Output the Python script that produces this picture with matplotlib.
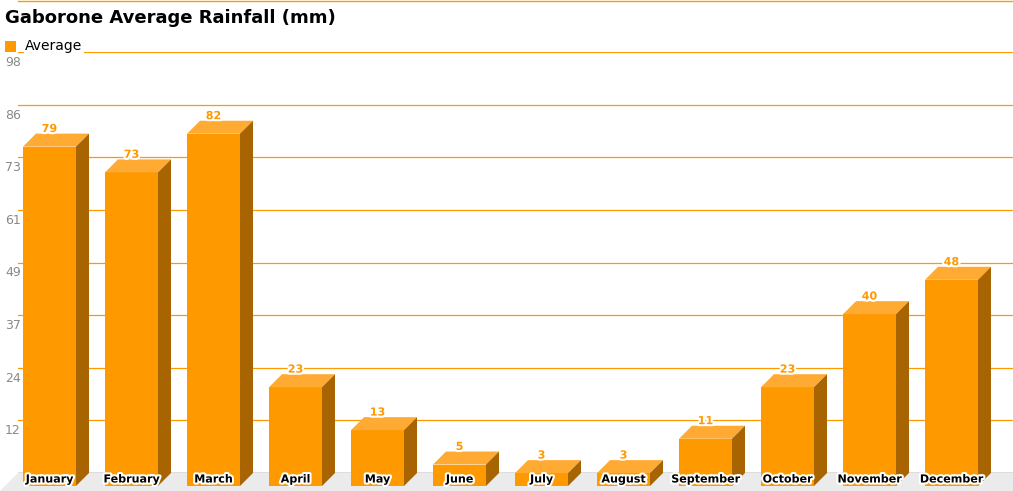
import matplotlib.pyplot as plt
import matplotlib.patheffects as pe
from matplotlib.patches import Polygon

months = ["January", "February", "March", "April", "May", "June",
          "July", "August", "September", "October", "November", "December"]
rainfall = [79, 73, 82, 23, 13, 5, 3, 3, 11, 23, 40, 48]
tick_values = [12.25, 24.5, 36.75, 49, 61.25, 73.5, 85.75, 98]
tick_labels = ["12", "24", "37", "49", "61", "73", "86", "98"]

W, H = 1013, 491
FRONT = "#ff9900"
TOP = "#ffaa33"
SIDE = "#a86400"
GRID = "#ff9900"

fig = plt.figure(figsize=(W / 100, H / 100), dpi=100)
# axes spans from pixel x=18 to the right edge, value 0 at y=473, 98 at y=52
ax = fig.add_axes([18 / W, (H - 473) / H, (W - 18) / W, 421 / H])
ax.set_xlim((18 - 62.5) / 82, (W - 62.5) / 82)
ax.set_ylim(0, 98)
ax.axis("off")

px_x = 1 / 82          # data units per pixel, x
px_y = 98 / 421        # data units per pixel, y
dx = 13 * px_x
dy = 13 * px_y
bw = 53 * px_x

# floor
x0, x1 = ax.get_xlim()
floor = Polygon([(x0, 0), (x1, 0), (x1, -18 * px_y), (x0 - 18 * px_x, -18 * px_y)],
                closed=True, facecolor="#ebebeb", edgecolor="none", clip_on=False, zorder=0)
ax.add_patch(floor)

# grid lines + tick labels (drawn just under each line)
for t, lab in zip(tick_values, tick_labels):
    ax.axhline(t, color=GRID, linewidth=0.9, zorder=1)
    ax.text(x0 - 13 * px_x, t - 4 * px_y, lab,
            ha="left", va="top", fontsize=9, color="#888888", clip_on=False)
ax.axhline(0, color="#555555", linewidth=1, zorder=1)

outline = [pe.withStroke(linewidth=3, foreground="white")]
for i, v in enumerate(rainfall):
    l, r = i - bw / 2, i + bw / 2
    front = Polygon([(l - dx, -dy), (r - dx, -dy), (r - dx, v - dy), (l - dx, v - dy)],
                    facecolor=FRONT, edgecolor="none", clip_on=False, zorder=3)
    top = Polygon([(l - dx, v - dy), (r - dx, v - dy), (r, v), (l, v)],
                  facecolor=TOP, edgecolor="none", clip_on=False, zorder=3)
    side = Polygon([(r - dx, -dy), (r, 0), (r, v), (r - dx, v - dy)],
                   facecolor=SIDE, edgecolor="none", clip_on=False, zorder=3)
    for p in (front, top, side):
        ax.add_patch(p)
    ax.text(i - dx, v + 4.6 * px_y, str(v), ha="center", va="center",
            fontsize=8, fontweight="bold", color=FRONT, zorder=5, path_effects=outline)
    ax.text(i - dx, -6.5 * px_y, months[i], ha="center", va="center",
            fontsize=8, fontweight="bold", color="black", zorder=5, clip_on=False,
            path_effects=outline)

# top border line
fig.add_artist(plt.Line2D([18 / W, 1], [1 - 0.5 / H, 1 - 0.5 / H], color=GRID, linewidth=1))

fig.text(5 / W, 1 - 18 / H, "Gaborone Average Rainfall (mm)", ha="left", va="center",
         fontsize=13, fontweight="bold", color="black")
fig.patches.append(plt.Rectangle((5 / W, 1 - 52 / H), 11 / W, 11 / H, transform=fig.transFigure,
                                 facecolor=FRONT, edgecolor="none"))
fig.text(25 / W, 1 - 46 / H, "Average", ha="left", va="center", fontsize=10, color="black",
         bbox=dict(facecolor="white", edgecolor="none", pad=1))

fig.savefig("out.png", dpi=100)
